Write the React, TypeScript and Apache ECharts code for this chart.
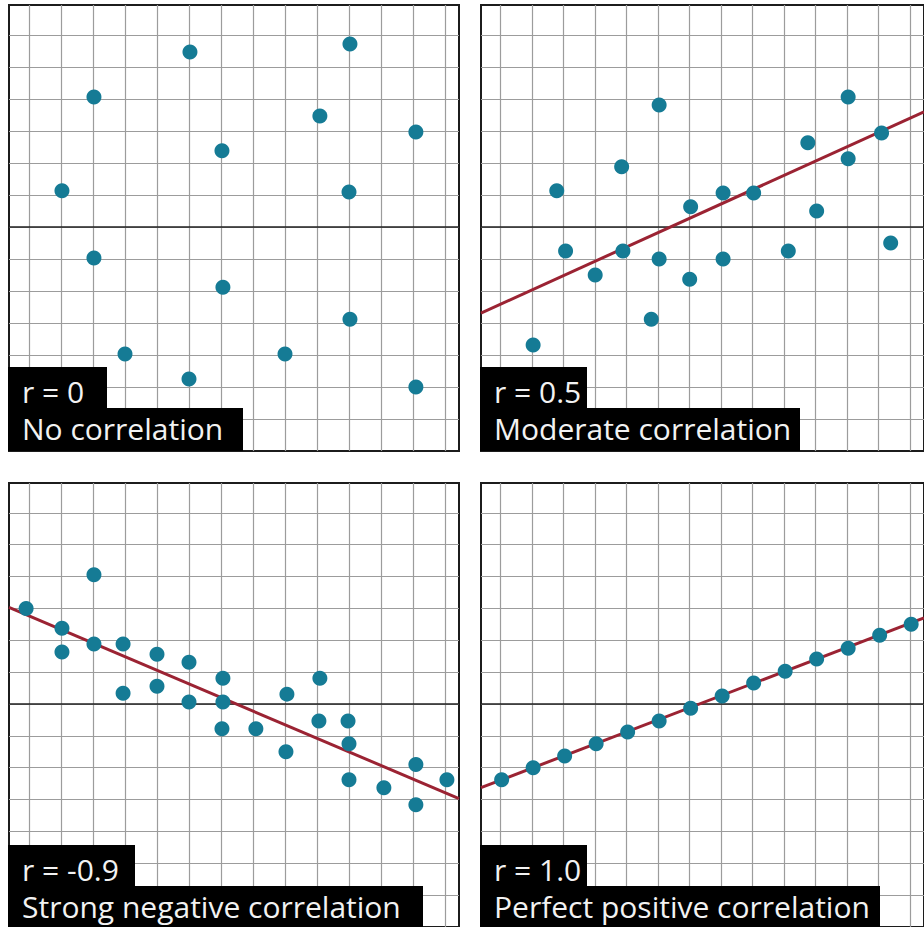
import React, { useEffect, useRef } from "react";
import * as echarts from "echarts";

// grid-unit coordinates: one grid cell = 1 unit
const gridTicksX = [0, 1, 2, 3, 4, 5, 6, 7, 8, 9, 10, 11, 12, 13];
const gridTicksY = [-6, -5, -4, -3, -2, -1, 0, 1, 2, 3, 4, 5, 6];

// Panel 1: r = 0
const noCorrX = [1.03, 2.03, 5.03, 6.03, 10.03, 9.09, 12.09, 10.0, 2.03, 6.06, 3.0, 5.0, 8.0, 10.03, 12.09];
const noCorrY = [1.13, 4.06, 5.47, 2.38, 5.72, 3.47, 2.97, 1.09, -0.97, -1.88, -3.97, -4.75, -3.97, -2.88, -5.0];

// Panel 2: r = 0.5
const modX = [1.03, 1.78, 2.06, 3.0, 3.84, 3.88, 4.78, 5.03, 5.03, 6.0, 6.03, 7.06, 7.06, 8.03, 9.13, 9.75, 10.03, 11.03, 11.03, 12.09, 12.38];
const modY = [-3.69, 1.13, -0.75, -1.5, 1.88, -0.75, -2.88, 3.81, -1.0, -1.63, 0.63, 1.06, -1.0, 1.06, -0.75, 2.63, 0.5, 4.06, 2.13, 2.94, -0.5];
const modTrendX = [-0.625, 13.4375];
const modTrendY = [-2.69, 3.6];

// Panel 3: r = -0.9
const negX = [-0.09, 1.03, 1.03, 2.03, 2.03, 2.94, 2.94, 4.0, 4.0, 5.0, 5.0, 6.06, 6.06, 6.03, 7.09, 8.06, 8.03, 9.09, 9.06, 9.97, 10.0, 10.0, 11.09, 12.09, 12.09, 13.06];
const negY = [3.0, 2.38, 1.63, 4.06, 1.88, 1.88, 0.34, 1.56, 0.56, 1.31, 0.06, 0.81, 0.06, -0.78, -0.78, 0.31, -1.5, 0.81, -0.53, -0.53, -1.25, -2.38, -2.63, -1.9, -3.16, -2.38];
const negTrendX = [-0.625, 13.4375];
const negTrendY = [3.03, -2.97];

// Panel 4: r = 1.0
const perfX = [0.03, 1.03, 2.03, 3.03, 4.03, 5.03, 6.03, 7.03, 8.03, 9.03, 10.03, 11.03, 12.03, 13.03];
const perfY = [-2.38, -2.0, -1.63, -1.25, -0.88, -0.53, -0.13, 0.25, 0.66, 1.03, 1.41, 1.75, 2.16, 2.5];
const perfTrendX = [-0.625, 13.4375];
const perfTrendY = [-2.625, 2.7];

const rLabels = ["r = 0", "r = 0.5", "r = -0.9", "r = 1.0"];
const nameLabels = ["No correlation", "Moderate correlation", "Strong negative correlation", "Perfect positive correlation"];

const X_MIN = -0.625;
const X_MAX = 13.4375;
const Y_MIN = -7;
const Y_MAX = 6.9375;

const DOT = "#157b95";
const TREND = "#9b2333";
const GRIDC = "#9c9c9c";

const panels = [
  { left: 9, top: 5, rW: 99, nW: 235 },
  { left: 481, top: 5, rW: 107, nW: 320 },
  { left: 9, top: 483, rW: 127, nW: 415 },
  { left: 481, top: 483, rW: 107, nW: 400 },
];

const zip = (xs: number[], ys: number[]) => xs.map((x, i) => [x, ys[i]]);

export default function App() {
  const ref = useRef<HTMLDivElement>(null);
  useEffect(() => {
    if (!ref.current) return;
    const chart = echarts.init(ref.current, null, { renderer: "svg" });

    const grids = panels.map((p) => ({
      left: p.left,
      top: p.top,
      width: 450,
      height: 446,
      show: true,
      borderColor: "#1c1c1c",
      borderWidth: 2,
      backgroundColor: "transparent",
      containLabel: false,
    }));

    const xAxes = panels.map((_, i) => ({
      type: "value",
      gridIndex: i,
      min: X_MIN,
      max: X_MAX,
      axisLine: { show: true, onZero: true, lineStyle: { color: "#222", width: 1.5 } },
      axisTick: { show: false, customValues: gridTicksX },
      axisLabel: { show: false },
      splitLine: { show: true, lineStyle: { color: GRIDC, width: 1.2 } },
    }));

    const yAxes = panels.map((_, i) => ({
      type: "value",
      gridIndex: i,
      min: Y_MIN,
      max: Y_MAX,
      axisLine: { show: false },
      axisTick: { show: false, customValues: gridTicksY },
      axisLabel: { show: false },
      splitLine: { show: true, lineStyle: { color: GRIDC, width: 1.2 } },
    }));

    const scatter = (i: number, xs: number[], ys: number[]) => ({
      type: "scatter",
      xAxisIndex: i,
      yAxisIndex: i,
      data: zip(xs, ys),
      symbolSize: 15,
      itemStyle: { color: DOT, opacity: 1 },
      clip: false,
      z: 3,
    });
    const trend = (i: number, xs: number[], ys: number[]) => ({
      type: "line",
      xAxisIndex: i,
      yAxisIndex: i,
      data: zip(xs, ys),
      showSymbol: false,
      symbol: "none",
      lineStyle: { color: TREND, width: 3 },
      clip: false,
      z: 2,
    });

    const graphics: any[] = [];
    panels.forEach((p, i) => {
      const bx = p.left - 1;
      graphics.push({
        type: "rect",
        z: 100,
        shape: { x: bx, y: p.top + 362, width: p.rW, height: 42 },
        style: { fill: "#000" },
      });
      graphics.push({
        type: "rect",
        z: 100,
        shape: { x: bx, y: p.top + 403, width: p.nW, height: 43 },
        style: { fill: "#000" },
      });
      graphics.push({
        type: "text",
        z: 101,
        x: bx + 14,
        y: p.top + 386,
        style: {
          text: rLabels[i],
          fill: "#f2f2f2",
          font: "30px 'Open Sans'",
          lineHeight: 30,
          verticalAlign: "middle",
          align: "left",
        },
      });
      graphics.push({
        type: "text",
        z: 101,
        x: bx + 14,
        y: p.top + 423,
        style: {
          text: nameLabels[i],
          fill: "#f2f2f2",
          font: "30px 'Open Sans'",
          lineHeight: 30,
          verticalAlign: "middle",
          align: "left",
        },
      });
    });

    chart.setOption({
      animation: false,
      backgroundColor: "#ffffff",
      grid: grids,
      xAxis: xAxes,
      yAxis: yAxes,
      series: [
        scatter(0, noCorrX, noCorrY),
        trend(1, modTrendX, modTrendY),
        scatter(1, modX, modY),
        trend(2, negTrendX, negTrendY),
        scatter(2, negX, negY),
        trend(3, perfTrendX, perfTrendY),
        scatter(3, perfX, perfY),
      ],
      graphic: graphics,
    });
    return () => chart.dispose();
  }, []);
  return (
    <div
      ref={ref}
      style={{ position: "fixed", left: 0, top: 0, width: 924, height: 927 }}
    />
  );
}
